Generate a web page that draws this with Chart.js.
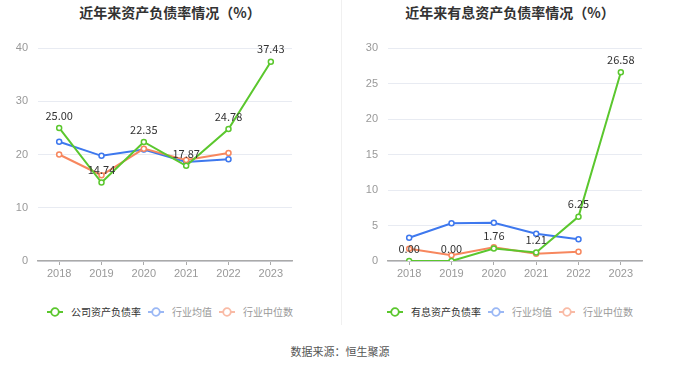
<!DOCTYPE html>
<html><head><meta charset="utf-8">
<script src="https://cdn.jsdelivr.net/npm/chart.js@4/dist/chart.umd.min.js"></script>
<style>
html,body{margin:0;padding:0;background:#fff;width:680px;height:367px;overflow:hidden;font-family:"Noto Sans CJK SC","Noto Sans",sans-serif;}
.panel{position:absolute;top:0;width:340px;height:330px;}
.title{position:absolute;top:2px;left:0;width:340px;text-align:center;font-size:14px;font-weight:bold;color:#333;}
.cv{position:absolute;left:0;top:0;}
.legend{position:absolute;top:304px;left:0;width:340px;text-align:center;font-size:10px;white-space:nowrap;}
.legend span.item{display:inline-flex;align-items:center;margin:0 3.5px;}
.legend svg{margin-right:8px;}
#divider{position:absolute;left:341px;top:0;width:1px;height:325px;background:#f0f0f0;}
#source{position:absolute;top:343px;left:0;width:680px;text-align:center;font-size:11px;color:#555;}
</style></head>
<body>
<div class="panel" style="left:0"><div class="title">近年来资产负债率情况（%）</div><canvas id="c1" class="cv" width="340" height="290"></canvas><div class="legend" id="l1"></div></div>
<div id="divider"></div>
<div class="panel" style="left:340px"><div class="title">近年来有息资产负债率情况（%）</div><canvas id="c2" class="cv" width="340" height="290"></canvas><div class="legend" id="l2"></div></div>
<div id="source">数据来源：恒生聚源</div>
<script>
const years = ["2018","2019","2020","2021","2022","2023"];
const debtRatio = [25.00, 14.74, 22.35, 17.87, 24.78, 37.43];
const debtIndustryAvg = [22.4, 19.75, 20.95, 18.6, 19.1, null];
const debtIndustryMedian = [20.0, 16.1, 21.1, 18.95, 20.3, null];
const interestDebtRatio = [0.00, 0.00, 1.76, 1.21, 6.25, 26.58];
const interestIndustryAvg = [3.28, 5.3, 5.4, 3.85, 3.05, null];
const interestIndustryMedian = [1.73, 0.8, 1.93, 1.03, 1.31, null];
const leftTicks = {max:40, step:10};
const rightTicks = {max:30, step:5};
const legend1 = ["公司资产负债率","行业均值","行业中位数"];
const legend2 = ["有息资产负债率","行业均值","行业中位数"];

const GREEN="#5bc72e", BLUE="#3e78ee", ORANGE="#f7875e";
const LEG_COLORS=[GREEN,"#9bb8f5","#f9bba6"];
const LEG_TEXT=["#333","#999","#999"];

const labelPlugin={id:'lbl',afterDatasetsDraw(chart){
  const ctx=chart.ctx; const meta=chart.getDatasetMeta(0);
  ctx.save(); ctx.font='11px "Noto Sans CJK SC","Noto Sans",sans-serif'; ctx.fillStyle='#333';
  ctx.textAlign='center'; ctx.textBaseline='bottom';
  meta.data.forEach((p,i)=>{const v=chart.data.datasets[0].data[i]; if(v==null)return; ctx.fillText(v.toFixed(2),p.x,p.y-7);});
  ctx.restore();}};

function make(id,data,avg,med,tk,padL,padR,names){
  const ds=(d,c)=>({data:d,borderColor:c,backgroundColor:'#fff',pointBackgroundColor:'#fff',pointBorderColor:c,pointBorderWidth:1.5,pointRadius:2.5,borderWidth:2,tension:0,spanGaps:false});
  new Chart(document.getElementById(id),{type:'line',
    data:{labels:years,datasets:[ds(data,GREEN),ds(avg,BLUE),ds(med,ORANGE)].map((d,i)=>Object.assign(d,{label:names[i],order:[0,2,1][i]}))},
    options:{responsive:false,animation:false,
      layout:{padding:{left:0,right:padR,top:48,bottom:0}},
      plugins:{legend:{display:false},tooltip:{enabled:false}},
      scales:{
        x:{offset:true,grid:{display:true,drawOnChartArea:false,drawTicks:true,tickLength:4,color:'#aaa',offset:false},
           border:{color:'#aaa',width:1.5},
           ticks:{color:'#999',font:{size:11},padding:2},
           afterFit(s){s.height=29;}},
        y:{min:0,max:tk.max,ticks:{stepSize:tk.step,color:'#999',font:{size:11},padding:10},
           grid:{color:'#e8ebf2',drawTicks:false},border:{display:false},
           afterFit(s){s.width=padL;}}
      }},
    plugins:[labelPlugin]});
}
make('c1',debtRatio,debtIndustryAvg,debtIndustryMedian,leftTicks,38,48,legend1);
make('c2',interestDebtRatio,interestIndustryAvg,interestIndustryMedian,rightTicks,48,38,legend2);

function legend(id,names){
  const el=document.getElementById(id);
  el.innerHTML=names.map((n,i)=>`<span class="item"><svg width="16" height="10"><line x1="0" y1="5" x2="16" y2="5" stroke="${LEG_COLORS[i]}" stroke-width="2"/><circle cx="8" cy="5" r="3.8" fill="#fff" stroke="${LEG_COLORS[i]}" stroke-width="1.8"/></svg><span style="color:${LEG_TEXT[i]}">${n}</span></span>`).join('');
}
legend('l1',legend1); legend('l2',legend2);
</script>
</body></html>
